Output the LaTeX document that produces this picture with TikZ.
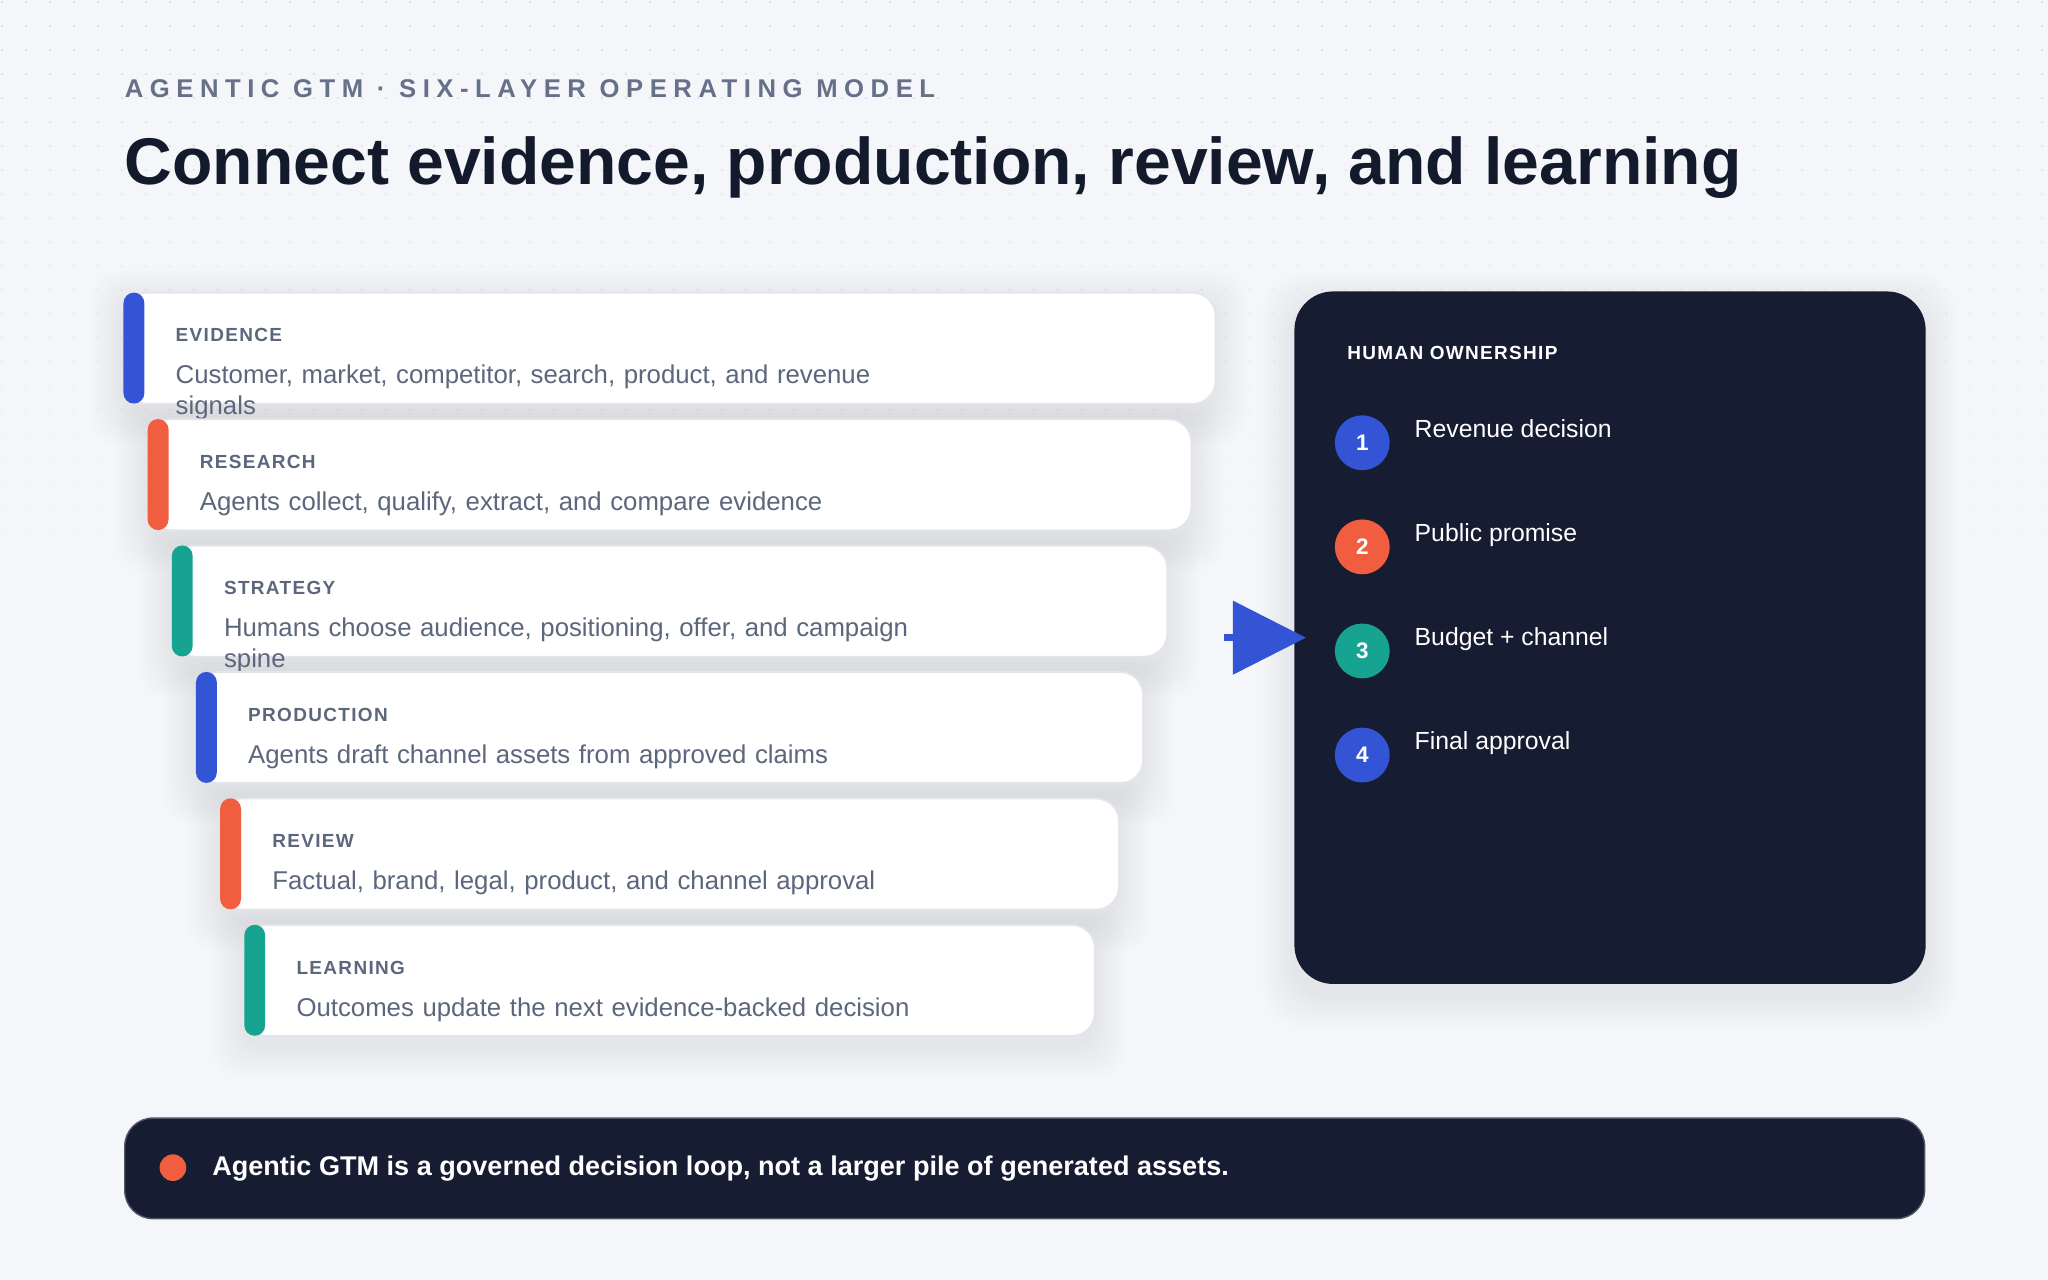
\documentclass[tikz,border=0pt]{standalone}
\usepackage{fontspec}
\setmainfont{Liberation Sans}
\usetikzlibrary{arrows.meta,positioning}
\definecolor{paper}{HTML}{F5F6FA}
\definecolor{dotc}{HTML}{DCDFE6}
\definecolor{ink}{HTML}{131A2B}
\definecolor{slate}{HTML}{5C667C}
\definecolor{mute}{HTML}{667089}
\definecolor{edge}{HTML}{E2E5EC}
\definecolor{navy}{HTML}{161C31}
\definecolor{cblue}{HTML}{3355D5}
\definecolor{corange}{HTML}{F15E3F}
\definecolor{cteal}{HTML}{17A391}
\def\px{0.013061cm}

\begin{document}
\begin{tikzpicture}[x=0.013061cm, y=-0.013061cm]
\tikzstyle{card}=[draw=edge,line width=0.5pt,fill=white,rounded corners=6.5pt,inner sep=0pt,anchor=north west,minimum height=85*\px]
\tikzstyle{bar}=[rounded corners=3pt,inner sep=0pt,anchor=north west,minimum width=16*\px,minimum height=85*\px]
\tikzstyle{tag}=[font=\fontsize{5.4}{6.5}\selectfont\bfseries\addfontfeatures{LetterSpace=7},text=slate,inner sep=0pt,anchor=base west]
\tikzstyle{blurb}=[font=\fontsize{7.33}{8.6}\selectfont,text=slate,align=left,text width=600*\px,inner sep=0pt,anchor=base west]
\tikzstyle{badge}=[circle,inner sep=0pt,minimum size=42*\px,text=white,font=\fontsize{6.4}{7}\selectfont\bfseries]
\tikzstyle{item}=[font=\fontsize{7.05}{8.4}\selectfont,text=white,inner sep=0pt,anchor=base west]
\tikzstyle{pointer}=[draw=cblue,line width=1.9pt,-{Triangle[length=20.8pt,width=20.6pt]}]
  \fill[paper] (0,0) rectangle (1568,980);
  \useasboundingbox (0,0) rectangle (1568,980);
  \foreach \j [evaluate=\j as \fade using 1-\j/24] in {0,...,22}
    \foreach \i in {0,...,85}
      \fill[dotc,opacity=\fade] (1.5+18.375*\i,1.5+18.375*\j) circle (1.1);
  \node[font=\fontsize{7.3}{8}\selectfont\bfseries\addfontfeatures{LetterSpace=25.5},text=mute,inner sep=0pt,anchor=base west] (kicker) at (95,75) {AGENTIC GTM · SIX-LAYER OPERATING MODEL};
  \node[font=\fontsize{18.8}{22}\selectfont\bfseries,text=ink,inner sep=0pt,anchor=base west] (headline) at (95,141) {Connect evidence, production, review, and learning};
  \foreach \i in {0,...,5}
    \foreach \k in {1,...,8}
      \fill[black,opacity=0.007,rounded corners=8pt] (94+18.5*\i-3*\k,223.5+96.8*\i+8-3*\k) rectangle (930-18.5*\i+3*\k,308.5+96.8*\i+8+3*\k);
  \foreach \k in {1,...,8}
    \fill[black,opacity=0.008,rounded corners=12pt] (990.5-3*\k,222.6+10-3*\k) rectangle (1473.8+3*\k,752.8+10+3*\k);
  \foreach \i/\name/\col/\head/\body in {0/evidence/cblue/EVIDENCE/{Customer, market, competitor, search, product, and revenue\\signals},
                                         1/research/corange/RESEARCH/{Agents collect, qualify, extract, and compare evidence},
                                         2/strategy/cteal/STRATEGY/{Humans choose audience, positioning, offer, and campaign\\spine},
                                         3/production/cblue/PRODUCTION/{Agents draft channel assets from approved claims},
                                         4/review/corange/REVIEW/{Factual, brand, legal, product, and channel approval},
                                         5/learning/cteal/LEARNING/{Outcomes update the next evidence-backed decision}}
  {
    \node[card,minimum width={(836-37*\i)*\px}] (\name) at (94+18.5*\i,223.5+96.8*\i) {};
    \node[bar,fill=\col] (\name bar) at (\name.north west) {};
    \node[tag] (\name tag) at (134+18.5*\i,261.8+96.8*\i) {\head};
    \node[blurb] (\name text) at (134+18.5*\i,294+96.8*\i) {\body};
  }
  \node[fill=navy,rounded corners=11pt,inner sep=0pt,anchor=north west,minimum width=483.3*\px,minimum height=530.2*\px] (owner) at (990.5,222.6) {};
  \node[tag,text=white] (ownerhead) at (1031,275.6) {HUMAN OWNERSHIP};
  \foreach \j/\col/\what in {1/cblue/Revenue decision,
                             2/corange/Public promise,
                             3/cteal/Budget + channel,
                             4/cblue/Final approval}
  {
    \node[badge,fill=\col] (badge\j) at (1043,259.3+79.7*\j) {\j};
    \node[item] (item\j) at (1082.6,255+79.7*\j) {\what};
  }
  \coordinate (feed) at ([xshift=-19.7pt]owner.west);
  \draw[pointer] (feed) -- ([xshift=3.5pt]owner.west);
  \node[fill=navy,draw=navy!75!white,line width=0.4pt,rounded corners=8pt,inner sep=0pt,anchor=north west,minimum width=1378*\px,minimum height=77*\px] (takeaway) at (95,855.5) {};
  \node[circle,fill=corange,inner sep=0pt,minimum size=20.4*\px] (bullet) at (132.4,894) {};
  \node[font=\fontsize{7.7}{9}\selectfont\bfseries,text=white,inner sep=0pt,anchor=base west] (punchline) at (162,900) {Agentic GTM is a governed decision loop, not a larger pile of generated assets.};
\end{tikzpicture}
\end{document}
